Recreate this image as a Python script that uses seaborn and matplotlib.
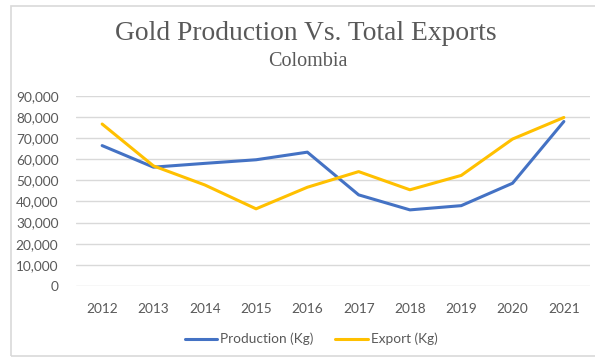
import matplotlib
matplotlib.use("Agg")
import matplotlib.pyplot as plt
from matplotlib.patches import Rectangle
from matplotlib.ticker import FuncFormatter
import seaborn as sns
import pandas as pd

years = [2012, 2013, 2014, 2015, 2016, 2017, 2018, 2019, 2020, 2021]
production_kg = [66400, 56200, 58000, 59700, 63300, 43100, 36000, 38000, 48600, 77800]
export_kg = [76600, 56800, 47800, 36500, 46700, 54100, 45500, 52300, 69500, 79700]
series_names = ["Production (Kg)", "Export (Kg)"]
y_ticks = [0, 10000, 20000, 30000, 40000, 50000, 60000, 70000, 80000, 90000]

df = pd.DataFrame({
    "pos": list(range(len(years))) * 2,
    "value": production_kg + export_kg,
    "series": [series_names[0]] * len(years) + [series_names[1]] * len(years),
})

sns.set_theme(style="white")
plt.rcParams["font.family"] = ["Lato", "DejaVu Sans"]

W, H = 595, 363
fig = plt.figure(figsize=(W / 100, H / 100), dpi=100)
fig.patch.set_facecolor("white")

# outer chart frame
fig.patches.append(Rectangle((10.5 / W, 1 - 355.5 / H), (W + 10) / W, (355.5 - 5.5) / H,
                             transform=fig.transFigure, fill=False,
                             edgecolor="#d9d9d9", linewidth=1.2, zorder=0))

ax = fig.add_axes([76.5 / W, 1 - 286 / H, (589.5 - 76.5) / W, (286 - 95.7) / H])
palette = {series_names[0]: "#4472C4", series_names[1]: "#FFC000"}
sns.lineplot(data=df, x="pos", y="value", hue="series", palette=palette,
             linewidth=2.2, ax=ax, legend=False, sort=False)

ax.set_xlim(-0.5, len(years) - 0.5)
ax.set_ylim(0, 90000)
ax.set_yticks(y_ticks)
ax.yaxis.set_major_formatter(FuncFormatter(lambda v, p: f"{int(v):,}"))
ax.set_xticks(range(len(years)))
ax.set_xticklabels([str(y) for y in years])
ax.set_xlabel("")
ax.set_ylabel("")
ax.grid(axis="y", color="#d9d9d9", linewidth=1.0)
ax.set_axisbelow(True)
for s in ax.spines.values():
    s.set_visible(False)
ax.tick_params(axis="both", length=0, labelsize=9.8, colors="#595959")
ax.tick_params(axis="y", pad=13)
ax.tick_params(axis="x", pad=12)

fig.text(306 / W, 1 - 34 / H, "Gold Production Vs. Total Exports",
         family=["Liberation Serif"], fontsize=19.8, color="#595959",
         ha="center", va="center")
fig.text(308 / W, 1 - 62 / H, "Colombia",
         family=["Liberation Serif"], fontsize=14.5, color="#595959",
         ha="center", va="center")

handles = [plt.Line2D([], [], color=palette[n], linewidth=2.2) for n in series_names]
fig.legend(handles, series_names, loc="center", bbox_to_anchor=(311 / W, 1 - 339 / H),
           ncol=2, frameon=False, fontsize=9.8, labelcolor="#595959",
           handlelength=2.4, handletextpad=0.2, columnspacing=1.6)

fig.savefig("out.png", dpi=100, facecolor="white")
